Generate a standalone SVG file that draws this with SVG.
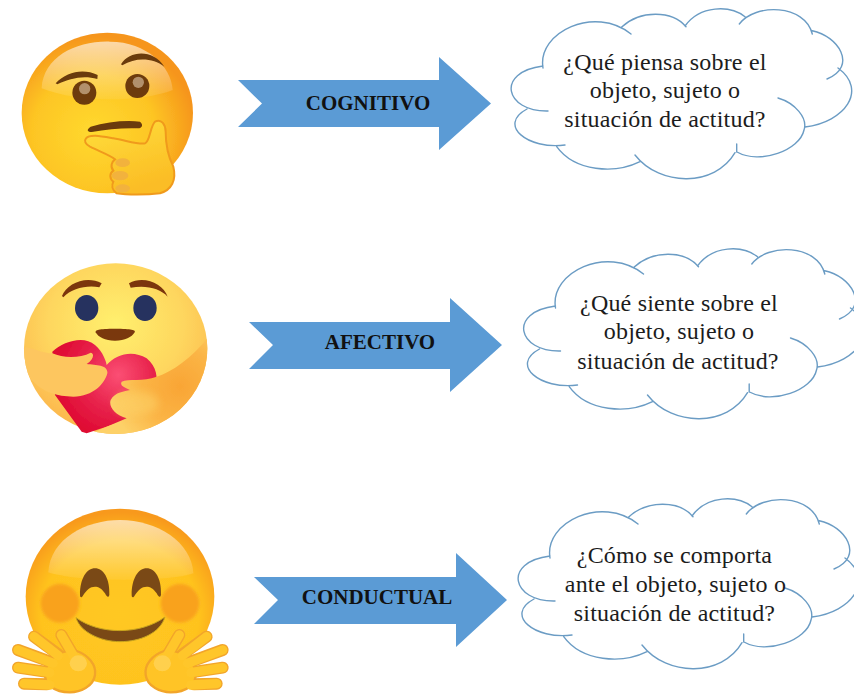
<svg xmlns="http://www.w3.org/2000/svg" xmlns:xlink="http://www.w3.org/1999/xlink" width="854" height="695" viewBox="0 0 854 695">
<style>
.q{font-family:"Liberation Serif",serif;font-size:24px;letter-spacing:.2px;fill:#1c1c1c;text-anchor:middle}
.l{font-family:"Liberation Serif",serif;font-size:21px;font-weight:bold;fill:#111;text-anchor:middle}
.arrow{fill:#5b9bd5}
.cl{fill:none;stroke:#6b9cc4;stroke-width:1.4;stroke-linecap:round}
</style>
<defs>
<filter id="soft" x="-5%" y="-5%" width="110%" height="110%"><feGaussianBlur stdDeviation="1.6"/></filter>
<filter id="soft2" x="-30%" y="-30%" width="160%" height="160%"><feGaussianBlur stdDeviation="5"/></filter>
<filter id="soft3" x="-30%" y="-30%" width="160%" height="160%"><feGaussianBlur stdDeviation="12"/></filter>
<radialGradient id="f1" cx="0.42" cy="0.62" r="0.6"><stop offset="0" stop-color="#ffd92f"/><stop offset="0.6" stop-color="#fdc524"/><stop offset="1" stop-color="#f6951b"/></radialGradient>
<linearGradient id="hi" x1="0" y1="0" x2="0" y2="1"><stop offset="0" stop-color="#fff" stop-opacity="0.62"/><stop offset="1" stop-color="#fff" stop-opacity="0.06"/></linearGradient>
<linearGradient id="hd" x1="0" y1="0" x2="0.4" y2="1"><stop offset="0" stop-color="#ffdf3c"/><stop offset="1" stop-color="#fbbd25"/></linearGradient>
<radialGradient id="f2" cx="0.5" cy="0.36" r="0.62"><stop offset="0" stop-color="#fff06e"/><stop offset="0.6" stop-color="#fed65e"/><stop offset="1" stop-color="#fcb94e"/></radialGradient>
<radialGradient id="ht" gradientUnits="userSpaceOnUse" cx="355" cy="375" r="190"><stop offset="0" stop-color="#fb4f74"/><stop offset="0.55" stop-color="#e8234c"/><stop offset="1" stop-color="#df0a33"/></radialGradient>
<radialGradient id="ar" gradientUnits="userSpaceOnUse" cx="540" cy="410" r="210"><stop offset="0" stop-color="#f9a535"/><stop offset="0.55" stop-color="#fbb546"/><stop offset="1" stop-color="#fdd168"/></radialGradient>
<radialGradient id="f3" cx="0.5" cy="0.6" r="0.58"><stop offset="0" stop-color="#ffc821"/><stop offset="0.72" stop-color="#ffc31f"/><stop offset="1" stop-color="#f8991c"/></radialGradient>
<clipPath id="c2"><ellipse cx="347" cy="296" rx="275" ry="256"/></clipPath>
<g id="cloud" class="cl">
<path d="M543 68C537 32 595 5 631 34M621.700 27C640 10 672 10 686 26.700M685 26C700 5 730 5 745 16.700M739.300 24C755 3 805 4 812.300 34M812.300 30.700C838 36 858 66 827 79M838 68C868 90 845 122 805 127M778 98C795 103 808 118 804 130C800 150 760 165 737 152M736.700 144L736.700 152M735 152.700C715 187 660 187 635 155M640 161.700C615 174 575 172 556.700 146.700M565 145C528 150 497 125 527 109M548 111C505 112 495 72 543 66"/>
</g>
<g id="hand">
<g fill="none" stroke="#f2a52a" stroke-width="36" stroke-linecap="round"><path d="M102 425L175 478"/><path d="M54 465L150 500"/><path d="M54 518L135 530"/><path d="M72 566L140 568"/><path d="M184 420L225 490"/></g>
<path d="M135 530C145 485 190 462 230 468C265 480 290 510 285 540C280 575 240 592 210 592C165 592 130 570 135 530Z" fill="#ffc425" stroke="#f2a52a" stroke-width="7"/>
<g fill="none" stroke="#ffc62a" stroke-width="28" stroke-linecap="round"><path d="M102 425L175 482"/><path d="M54 465L160 505"/><path d="M54 518L150 533"/><path d="M72 566L150 570"/><path d="M184 420L228 495"/></g>
<ellipse cx="235" cy="505" rx="26" ry="24" fill="#ffd04e"/>
</g>
</defs>

<g id="node-emoji-cognitivo" transform="translate(0,10) scale(.33333)"><g filter="url(#soft)">
<ellipse cx="322" cy="309" rx="257" ry="241" fill="url(#f1)"/>
<path d="M125 235C130 140 230 92 330 95C440 95 515 170 518 240C420 278 230 278 125 235Z" fill="url(#hi)"/>
<path d="M167 220C200 185 250 175 293 195L292 207C250 195 210 205 172 223Z" fill="#6b3a08"/>
<path d="M363 163C390 120 460 118 493 170C460 145 410 140 367 166Z" fill="#6b3a08"/>
<circle cx="253" cy="248" r="36" fill="#6d3a08"/><circle cx="254" cy="236" r="17" fill="#b2906c"/>
<circle cx="412" cy="228" r="36" fill="#6d3a08"/><circle cx="415" cy="217" r="17" fill="#b2906c"/>
<path d="M272 350C320 335 380 330 420 335C432 345 425 354 415 355C370 353 320 358 275 366C260 366 260 358 272 350Z" fill="#6b3a08"/>
<path d="M258 385C270 372 300 378 340 385C380 392 420 405 435 400C450 395 450 350 465 335C485 325 497 345 497 365C497 400 505 440 520 470C530 510 515 540 480 550C440 555 380 555 350 550C335 540 335 525 340 515C328 505 328 490 340 482C330 470 335 455 345 448C330 435 300 425 270 410C255 402 252 392 258 385Z" fill="url(#hd)" stroke="#f09a1c" stroke-width="6"/>
<g fill="#f2b23c"><ellipse cx="368" cy="458" rx="22" ry="13"/><ellipse cx="360" cy="497" rx="25" ry="14"/><ellipse cx="368" cy="535" rx="22" ry="12"/></g>
</g></g>

<g id="node-emoji-afectivo" transform="translate(0,250) scale(.33333)"><g filter="url(#soft)">
<ellipse cx="347" cy="296" rx="275" ry="256" fill="url(#f2)"/>
<path d="M186 138C200 100 260 75 305 100L298 112C260 105 215 115 190 142Z" fill="#7c340c"/>
<path d="M387 100C430 75 490 100 503 140C480 115 440 105 392 113Z" fill="#7c340c"/>
<ellipse cx="260" cy="174" rx="35" ry="39" fill="#25305f"/><ellipse cx="435" cy="174" rx="35" ry="39" fill="#25305f"/>
<path d="M287 247C285 240 295 236 345 236C395 236 408 240 404 247C395 262 375 272 345 272C315 272 295 262 287 247Z" fill="#7a3808"/>
<path d="M157 305C190 275 250 255 285 285C310 305 320 340 320 345C350 310 400 300 440 325C470 350 475 385 465 405L380 510L260 550L245 545L165 435Z" fill="url(#ht)"/>
<g clip-path="url(#c2)">
<path d="M157 310C190 325 240 325 272 308C285 310 280 330 260 342C290 345 325 345 322 370C315 400 280 440 220 440C170 440 130 425 105 400C70 370 60 320 72 290C100 295 130 310 157 310Z" fill="#fdc65f"/>
<path d="M365 395C385 385 430 395 470 380C520 365 580 320 630 255L630 560L250 560L380 505C345 495 325 470 332 450C345 425 375 425 390 420C375 412 358 408 365 395Z" fill="url(#ar)"/>
<ellipse cx="410" cy="460" rx="65" ry="36" fill="#fdd168" opacity=".6" filter="url(#soft3)"/>
</g></g></g>

<g id="node-emoji-conductual" transform="translate(0,495) scale(.33333)"><g filter="url(#soft)">
<ellipse cx="360" cy="305" rx="283" ry="264" fill="url(#f3)"/>
<path d="M145 232C150 130 260 75 360 75C470 75 575 140 580 235C500 262 230 262 145 232Z" fill="url(#hi)"/>
<circle cx="180" cy="325" r="58" fill="#f9a21e" filter="url(#soft2)"/><circle cx="540" cy="325" r="58" fill="#f9a21e" filter="url(#soft2)"/>
<path id="ey" d="M240 300C240 250 260 220 285 220C310 220 330 250 328 300C325 310 320 305 315 295C305 280 295 275 285 275C270 275 260 285 250 300C245 310 240 308 240 300Z" fill="#7a4a17"/>
<use xlink:href="#ey" href="#ey" x="155"/>
<path d="M228 368C300 420 420 420 495 366C480 415 420 440 360 440C300 440 240 410 228 368Z" fill="#7a4a17" stroke="#c9a520" stroke-width="3"/>
<use xlink:href="#hand" href="#hand"/>
<use xlink:href="#hand" href="#hand" transform="translate(722,0) scale(-1,1)"/>
</g></g>

<g id="connectors">
<polygon class="arrow" points="238,80 439,80 439,57 491,103.500 439,150 439,127 238,127 262,103.500"/>
<polygon class="arrow" points="249,322 450,322 450,298 502,345 450,392 450,369 249,369 273,345"/>
<polygon class="arrow" points="254,577 456,577 456,553 507,600 456,647 456,624 254,624 278,600"/>
<text class="l" x="368" y="110">COGNITIVO</text>
<text class="l" x="380" y="349">AFECTIVO</text>
<text class="l" x="377" y="604">CONDUCTUAL</text>
</g>

<g id="node-cloud-cognitivo"><use xlink:href="#cloud" href="#cloud"/>
<text class="q" x="665" y="70">¿Qué piensa sobre el</text><text class="q" x="665" y="98">objeto, sujeto o</text><text class="q" x="665" y="127">situación de actitud?</text></g>
<g id="node-cloud-afectivo"><use xlink:href="#cloud" href="#cloud" transform="translate(12.500,240)"/>
<text class="q" x="679" y="311">¿Qué siente sobre el</text><text class="q" x="679" y="339">objeto, sujeto o</text><text class="q" x="678" y="369">situación de actitud?</text></g>
<g id="node-cloud-conductual"><use xlink:href="#cloud" href="#cloud" transform="translate(7,490)"/>
<text class="q" x="674.500" y="563">¿Cómo se comporta</text><text class="q" x="675.500" y="592">ante el objeto, sujeto o</text><text class="q" x="674.500" y="621">situación de actitud?</text></g>
</svg>
